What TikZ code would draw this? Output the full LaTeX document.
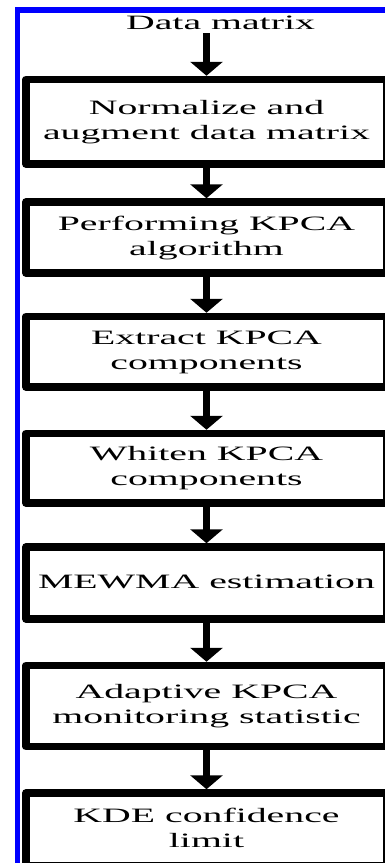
\documentclass[tikz,border=0pt]{standalone}
\usepackage{fontspec}
\setmainfont{Liberation Serif}
\usepackage{graphicx}
\usetikzlibrary{arrows.meta}
\newcommand{\widetext}[1]{\scalebox{1.95}[1]{\begin{tabular}{@{}c@{}}#1\end{tabular}}}
\begin{document}
\begin{tikzpicture}[x=1pt,y=-1pt,
  stepbox/.style={draw=black, line width=7.5pt, line join=round, fill=white,
    minimum width=361pt, inner sep=0pt, font=\fontsize{20.4pt}{25pt}\selectfont},
  flow/.style={draw=black, line width=7.5pt, -{Triangle[width=32pt,length=14pt]}},
  frame/.style={draw={rgb,255:red,0;green,0;blue,255}, line width=5.5pt}
]
\useasboundingbox (0,0) rectangle (385,863);
\clip (0,0) rectangle (385,863);
\fill[white] (0,0) rectangle (385,863);
\draw[frame] (17.5,10) rectangle (420,900);
\node[anchor=base, inner sep=0pt, font=\fontsize{20.4pt}{25pt}\selectfont] (dm) at (220.5,30) {\widetext{Data matrix}};
\coordinate (c0) at (206.5,33);
\node[stepbox, minimum height=84.5pt] (b1) at (206.5,121.75) {\widetext{Normalize and\\augment data matrix}};
\node[stepbox, minimum height=71pt] (b2) at (206.5,237.5) {\widetext{Performing KPCA\\algorithm}};
\node[stepbox, minimum height=70.5pt] (b3) at (206.5,351.75) {\widetext{Extract KPCA\\components}};
\node[stepbox, minimum height=69.5pt] (b4) at (206.5,468.25) {\widetext{Whiten KPCA\\components}};
\node[stepbox, minimum height=72pt] (b5) at (206.5,583) {\widetext{MEWMA estimation}};
\node[stepbox, minimum height=81pt] (b6) at (206.5,706) {\widetext{Adaptive KPCA\\monitoring statistic}};
\node[stepbox, minimum height=73pt] (b7) at (206.5,829.5) {\widetext{KDE confidence\\limit}};
\draw[flow] (c0) -- (b1);
\draw[flow] (b1) -- (b2);
\draw[flow] (b2) -- (b3);
\draw[flow] (b3) -- (b4);
\draw[flow] (b4) -- (b5);
\draw[flow] (b5) -- (b6);
\draw[flow] (b6) -- (b7);
\end{tikzpicture}
\end{document}
